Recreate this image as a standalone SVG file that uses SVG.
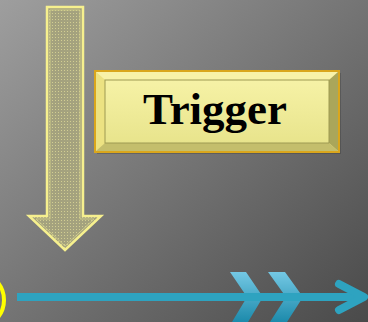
<svg xmlns="http://www.w3.org/2000/svg" width="368" height="322" viewBox="0 0 368 322">
<defs>
<style>
.lbl{font-family:"Liberation Serif","Times New Roman",serif;font-weight:bold;fill:#000}
.flow{stroke:#2ea3c0;fill:none;stroke-width:8}
</style>
<linearGradient id="bg" x1="0" y1="0" x2="1" y2="1">
<stop offset="0" stop-color="#9e9e9e"/>
<stop offset="1" stop-color="#4a4a4a"/>
</linearGradient>
<linearGradient id="chev" x1="0" y1="0" x2="0" y2="1">
<stop offset="0" stop-color="#74c8e4"/>
<stop offset="1" stop-color="#1c8aab"/>
</linearGradient>
<linearGradient id="face" x1="0" y1="0" x2="0" y2="1">
<stop offset="0" stop-color="#f6f2a6"/>
<stop offset="1" stop-color="#e8e48c"/>
</linearGradient>
<pattern id="dots" width="3" height="3" patternUnits="userSpaceOnUse">
<rect width="3" height="3" fill="#a4a27e"/>
<rect x="1" y="1" width="1" height="1" fill="#d2ce92"/>
</pattern>
</defs>
<rect width="368" height="322" fill="url(#bg)"/>
<g id="down-arrow">
<path d="M47,7 H83 V216 H101 L65,250 L29,216 H47 Z" fill="url(#dots)" stroke="#f6f08e" stroke-width="2.5" stroke-linejoin="miter"/>
<path d="M50,10 H80 V219 H94 L65,246 L36,219 H50 Z" fill="none" stroke="#d8d48a" stroke-width="0.8"/>
</g>
<g id="trigger">
<rect x="97" y="73" width="244" height="81" fill="#3a3a3a" opacity="0.35"/>
<rect x="95" y="71" width="244" height="81" fill="#f0e688" stroke="#daa61c" stroke-width="2"/>
<polygon points="96,72 338,72 329,80 105,80" fill="#f8f2a8"/>
<polygon points="96,72 105,80 105,143 96,151" fill="#ece282"/>
<polygon points="338,72 338,151 329,143 329,80" fill="#aaa65a"/>
<polygon points="96,151 338,151 329,143 105,143" fill="#c4be6c"/>
<rect x="105" y="80" width="224" height="63" fill="url(#face)" stroke="#9e9a52" stroke-width="1"/>
<text class="lbl" x="215" y="124" font-size="45" text-anchor="middle" textLength="144" lengthAdjust="spacingAndGlyphs">Trigger</text>
</g>
<g id="circle">
<circle cx="-24" cy="300" r="28" fill="none" stroke="#ffff00" stroke-width="4"/>
</g>
<g id="timeline">
<polygon points="230,272 246,272 263,297 248,322 232,322 247,297" fill="url(#chev)"/>
<polygon points="268,272 285,272 303,297 287,322 270,322 286,297" fill="url(#chev)"/>
</g>
<g id="connectors">
<line class="flow" x1="17" y1="297" x2="362" y2="297"/>
<polyline class="flow" points="339,284 364,297 339,310" stroke-linecap="round" stroke-linejoin="round"/>
</g>
</svg>
